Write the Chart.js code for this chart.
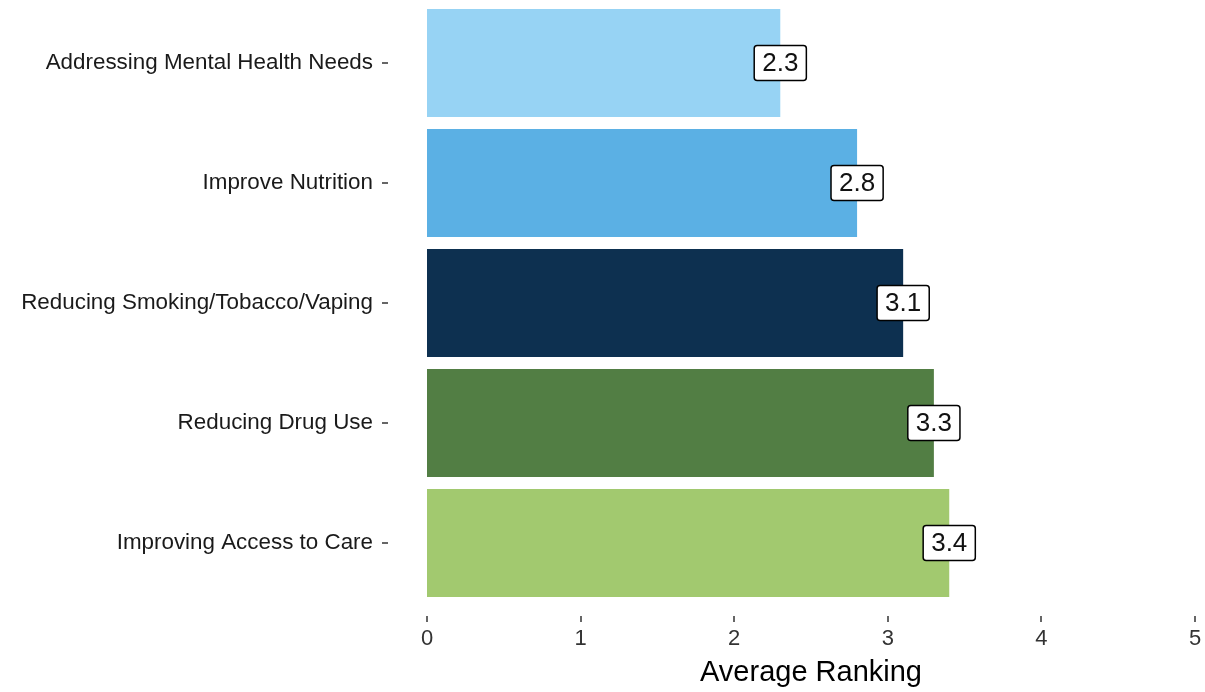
<!DOCTYPE html>
<html lang="en">
<head>
<meta charset="UTF-8">
<title>Average Ranking</title>
<script src="https://cdn.jsdelivr.net/npm/chart.js@4.4.1/dist/chart.umd.min.js"></script>
<style>
	html, body { margin: 0; padding: 0; background: #fff; }
	#wrap { width: 1205px; height: 692px; }
</style>
</head>
<body>
	<div id="wrap"><canvas id="pizarra"></canvas></div>

	<script>
		// data
		const categorias = ['Addressing Mental Health Needs', 'Improve Nutrition', 'Reducing Smoking/Tobacco/Vaping', 'Reducing Drug Use', 'Improving Access to Care']
		const valores = [2.3, 2.8, 3.1, 3.3, 3.4]
		const colores = ['#97D3F4', '#5BB0E4', '#0D3050', '#527E44', '#A2C96F']
		const ticksX = [0, 1, 2, 3, 4, 5]

		const fuente = "Arial, 'Liberation Sans', sans-serif"

		// etiquetas en cajitas + marcas de los ejes
		const extras = {
			id: 'extras',
			afterDatasetsDraw(chart) {
				const ctx = chart.ctx
				const meta = chart.getDatasetMeta(0)
				ctx.save()
				ctx.font = '26px ' + fuente
				ctx.textAlign = 'center'
				ctx.textBaseline = 'middle'
				meta.data.forEach((bar, i) => {
					const txt = valores[i].toFixed(1)
					const w = ctx.measureText(txt).width + 16
					const h = 35
					ctx.beginPath()
					ctx.roundRect(bar.x - w / 2, bar.y - h / 2, w, h, 3)
					ctx.fillStyle = '#fff'
					ctx.fill()
					ctx.lineWidth = 1.5
					ctx.strokeStyle = '#000'
					ctx.stroke()
					ctx.fillStyle = '#111'
					ctx.fillText(txt, bar.x, bar.y + 1)
				})
				ctx.restore()
			},
			afterDraw(chart) {
				const ctx = chart.ctx
				const x = chart.scales.x
				const y = chart.scales.y
				ctx.save()
				ctx.strokeStyle = '#333'
				ctx.lineWidth = 1.5
				ticksX.forEach(v => {
					const px = Math.round(x.getPixelForValue(v))
					ctx.beginPath()
					ctx.moveTo(px, 616)
					ctx.lineTo(px, 622)
					ctx.stroke()
				})
				categorias.forEach((c, i) => {
					const py = Math.round(y.getPixelForValue(i))
					ctx.beginPath()
					ctx.moveTo(382, py)
					ctx.lineTo(388, py)
					ctx.stroke()
				})
				ctx.restore()
			}
		}

		const g = document.getElementById('pizarra')
		const myChart = new Chart(g, {
			type: 'bar',
			data: {
				labels: categorias,
				datasets: [{
					data: valores,
					backgroundColor: colores,
					barPercentage: 0.9,
					categoryPercentage: 1
				}]
			},
			options: {
				indexAxis: 'y',
				responsive: true,
				maintainAspectRatio: false,
				animation: false,
				layout: { padding: { left: 0, right: 10, top: 3, bottom: 0 } },
				plugins: {
					legend: { display: false },
					tooltip: { enabled: false }
				},
				scales: {
					x: {
						min: 0,
						max: 5,
						afterFit: (s) => { s.height = 89 },
						// grid oculto, pero tickLength sirve de separación para las etiquetas
						grid: { display: false, drawTicks: true, tickLength: 23 },
						border: { display: false },
						ticks: {
							stepSize: 1,
							padding: 0,
							color: '#333',
							font: { family: fuente, size: 22 }
						},
						title: {
							display: true,
							text: 'Average Ranking',
							color: '#000',
							padding: { top: 0, bottom: 2 },
							font: { family: fuente, size: 29 }
						}
					},
					y: {
						afterFit: (s) => {
							s.width = 427
							s.paddingTop = 0
							s.paddingBottom = 0
						},
						grid: { display: false, drawTicks: true, tickLength: 54 },
						border: { display: false },
						ticks: {
							padding: 0,
							color: '#1a1a1a',
							font: { family: fuente, size: 22.4 }
						}
					}
				}
			},
			plugins: [extras]
		})
	</script>
</body>
</html>
